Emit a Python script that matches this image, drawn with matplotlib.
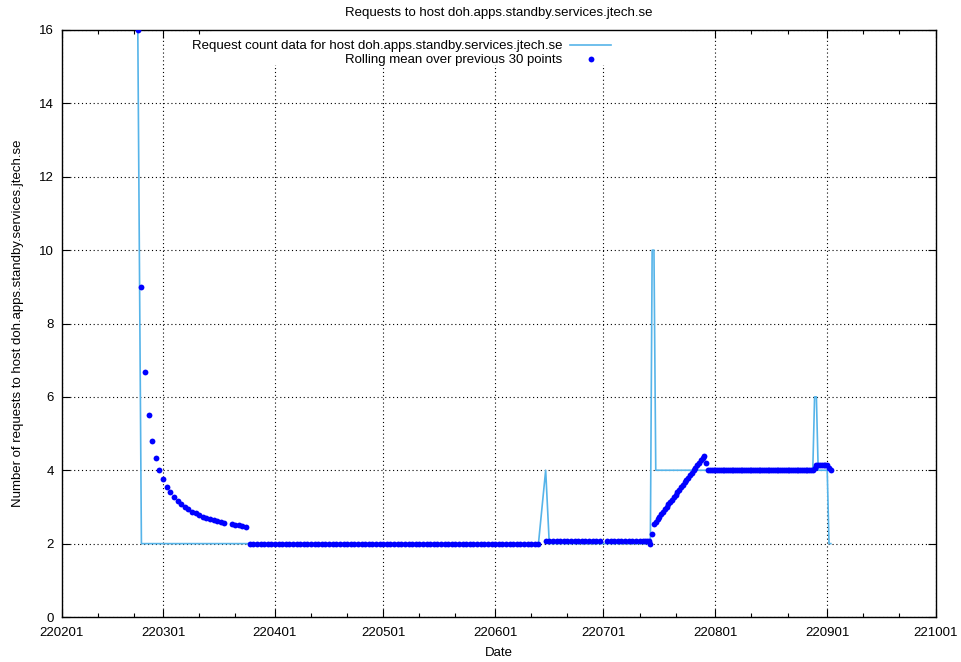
import matplotlib
matplotlib.use("Agg")
import matplotlib.pyplot as plt
import matplotlib.dates as mdates
from matplotlib.patches import Rectangle
import pandas as pd
import numpy as np

plt.rcParams['font.family'] = ['Liberation Sans', 'DejaVu Sans']

title = "Requests to host doh.apps.standby.services.jtech.se"
ylabel = "Number of requests to host doh.apps.standby.services.jtech.se"
xlabel = "Date"
label_raw = "Request count data for host doh.apps.standby.services.jtech.se"
label_mean = "Rolling mean over previous 30 points"
window = 30

# timestamps (yymmdd HH) of each logged request count
dates = [
    "220222 00", "220223 00", "220224 00", "220225 00", "220226 00", "220227 00", "220228 00",
    "220301 00", "220302 00", "220303 00", "220304 00", "220305 00", "220306 00", "220307 00",
    "220308 00", "220309 00", "220310 00", "220311 00", "220312 00", "220313 00", "220314 00",
    "220315 00", "220316 00", "220317 00", "220318 00",
    "220320 00", "220321 00", "220322 00", "220323 00", "220324 00", "220325 00", "220326 00",
    "220327 00", "220328 00", "220329 00", "220330 00", "220331 00",
    "220401 00", "220402 00", "220403 00", "220404 00", "220405 00", "220406 00", "220407 00",
    "220408 00", "220409 00", "220410 00", "220411 00", "220412 00", "220413 00", "220414 00",
    "220415 00", "220416 00", "220417 00", "220418 00", "220419 00", "220420 00", "220421 00",
    "220422 00", "220423 00", "220424 00", "220425 00", "220426 00", "220427 00", "220428 00",
    "220429 00", "220430 00",
    "220501 00", "220502 00", "220503 00", "220504 00", "220505 00", "220506 00", "220507 00",
    "220508 00", "220509 00", "220510 00", "220511 00", "220512 00", "220513 00", "220514 00",
    "220515 00", "220516 00", "220517 00", "220518 00", "220519 00", "220520 00", "220521 00",
    "220522 00", "220523 00", "220524 00", "220525 00", "220526 00", "220527 00", "220528 00",
    "220529 00", "220530 00", "220531 00",
    "220601 00", "220602 00", "220603 00", "220604 00", "220605 00", "220606 00", "220607 00",
    "220608 00", "220609 00", "220610 00", "220611 00", "220612 00", "220613 00",
    "220615 00", "220616 00", "220617 00", "220618 00", "220619 00", "220620 00", "220621 00",
    "220622 00", "220623 00", "220624 00", "220625 00", "220626 00", "220627 00", "220628 00",
    "220629 00", "220630 00",
    "220702 00", "220703 00", "220704 00", "220705 00", "220706 00", "220707 00", "220708 00",
    "220709 00", "220710 00", "220711 00", "220712 00",
    "220712 12", "220713 00", "220713 12", "220714 00", "220714 12", "220715 00",
    "220715 12", "220716 00", "220716 12", "220717 00", "220717 12", "220718 00",
    "220718 12", "220719 00", "220719 12", "220720 00", "220720 12", "220721 00",
    "220721 12", "220722 00", "220722 12", "220723 00", "220723 12", "220724 00",
    "220724 12", "220725 00", "220725 12", "220726 00", "220726 12", "220727 00",
    "220727 12", "220728 00", "220728 12", "220729 00", "220729 12", "220730 00",
    "220730 12", "220731 00",
    "220731 12", "220801 00", "220801 12", "220802 00", "220802 12", "220803 00",
    "220803 12", "220804 00", "220804 12", "220805 00", "220805 12", "220806 00",
    "220806 12", "220807 00", "220807 12", "220808 00", "220808 12", "220809 00",
    "220809 12", "220810 00", "220810 12", "220811 00", "220811 12", "220812 00",
    "220812 12", "220813 00", "220813 12", "220814 00", "220814 12", "220815 00",
    "220815 12", "220816 00", "220816 12", "220817 00", "220817 12", "220818 00",
    "220818 12", "220819 00", "220819 12", "220820 00", "220820 12", "220821 00",
    "220821 12", "220822 00", "220822 12", "220823 00", "220823 12", "220824 00",
    "220824 12", "220825 00", "220825 12", "220826 00", "220826 12", "220827 00",
    "220827 12", "220828 00", "220828 12", "220829 00", "220829 12", "220830 00",
    "220830 12", "220831 00",
    "220831 12", "220901 00", "220901 12", "220902 00",
]

counts = [
    16, 2, 2, 2, 2, 2, 2,
    2, 2, 2, 2, 2, 2, 2,
    2, 2, 2, 2, 2, 2, 2,
    2, 2, 2, 2,
    2, 2, 2, 2, 2, 2, 2,
    2, 2, 2, 2, 2,
    2, 2, 2, 2, 2, 2, 2,
    2, 2, 2, 2, 2, 2, 2,
    2, 2, 2, 2, 2, 2, 2,
    2, 2, 2, 2, 2, 2, 2,
    2, 2,
    2, 2, 2, 2, 2, 2, 2,
    2, 2, 2, 2, 2, 2, 2,
    2, 2, 2, 2, 2, 2, 2,
    2, 2, 2, 2, 2, 2, 2,
    2, 2, 2,
    2, 2, 2, 2, 2, 2, 2,
    2, 2, 2, 2, 2, 2,
    4, 2, 2, 2, 2, 2, 2,
    2, 2, 2, 2, 2, 2, 2,
    2, 2,
    2, 2, 2, 2, 2, 2, 2,
    2, 2, 2, 2,
    2, 2, 2, 2, 10, 10,
    4, 4, 4, 4, 4, 4,
    4, 4, 4, 4, 4, 4,
    4, 4, 4, 4, 4, 4,
    4, 4, 4, 4, 4, 4,
    4, 4, 4, 4, 4, 4,
    4, 4,
    4, 4, 4, 4, 4, 4,
    4, 4, 4, 4, 4, 4,
    4, 4, 4, 4, 4, 4,
    4, 4, 4, 4, 4, 4,
    4, 4, 4, 4, 4, 4,
    4, 4, 4, 4, 4, 4,
    4, 4, 4, 4, 4, 4,
    4, 4, 4, 4, 4, 4,
    4, 4, 4, 4, 4, 4,
    4, 4, 6, 6, 4, 4,
    4, 4,
    4, 4, 2, 2,
]

assert len(dates) == len(counts), (len(dates), len(counts))

x = pd.to_datetime(dates, format="%y%m%d %H")
y = pd.Series(counts, dtype=float)
mean = y.rolling(window, min_periods=1).mean()

W, H = 961, 662
fig = plt.figure(figsize=(W / 100, H / 100), dpi=100)
ax = fig.add_axes([62 / W, 45 / H, (935.5 - 62) / W, (617 - 30) / H])

fs = 9.5
ax.grid(True, which='major', color='black', linestyle=(0, (1, 2.5)), linewidth=0.8, zorder=1)
ax.set_axisbelow(True)
l1, = ax.plot(x, counts, color='#56b4e9', lw=1.2, zorder=3, label=label_raw)
l2, = ax.plot(x, mean, 'o', color='#0000ff', ms=4.2, mec='none', zorder=4, label=label_mean)

# opaque key area (blanks the grid beneath it)
ax.add_patch(Rectangle((150 / 873.5, 1 - 35 / 587), (616 - 150) / 873.5, 35 / 587,
                       transform=ax.transAxes, facecolor='white', edgecolor='none', zorder=2))

ax.set_xlim(pd.Timestamp("2022-02-01"), pd.Timestamp("2022-10-01"))
ax.set_ylim(0, 16)
ax.set_yticks(np.arange(0, 17, 2))
ax.xaxis.set_major_locator(mdates.MonthLocator())
ax.xaxis.set_minor_locator(mdates.DayLocator(bymonthday=[11, 21]))
ax.xaxis.set_major_formatter(mdates.DateFormatter("%y%m%d"))

ax.tick_params(which='both', direction='in', top=True, right=True, labelsize=fs, width=0.8)
ax.tick_params(axis='x', which='major', length=6, pad=7)
ax.tick_params(axis='y', which='major', length=6, pad=6)
ax.tick_params(which='minor', length=3)
for s in ax.spines.values():
    s.set_linewidth(1.0)

ax.set_title(title, fontsize=fs, pad=10)
ax.set_xlabel(xlabel, fontsize=fs, labelpad=6)
ax.set_ylabel(ylabel, fontsize=fs, labelpad=11)

leg = ax.legend(loc='upper right', bbox_to_anchor=(611 / W, 1 - 40 / H),
                bbox_transform=fig.transFigure, markerfirst=False,
                frameon=False, fontsize=fs, handlelength=3.1, handletextpad=0.6,
                borderpad=0.0, labelspacing=0.15, borderaxespad=0.0)
leg.set_zorder(5)
for t in leg.get_texts():
    t.set_ha('right')

fig.savefig("out.png", dpi=100)
